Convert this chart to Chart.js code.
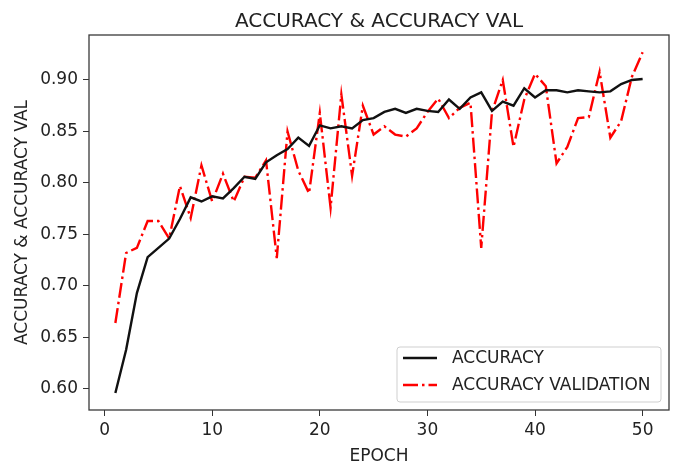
<!DOCTYPE html>
<html>
<head>
<meta charset="utf-8">
<script src="https://cdn.jsdelivr.net/npm/chart.js@4.4.0/dist/chart.umd.min.js"></script>
<style>
  html, body { margin: 0; padding: 0; background: #fff; }
  #wrap { width: 673px; height: 469px; }
</style>
</head>
<body>
<div id="wrap"><canvas id="accChart" width="673" height="469"></canvas></div>
<script>
// training history, one value per epoch
const epochs = [1, 2, 3, 4, 5, 6, 7, 8, 9, 10,
  11, 12, 13, 14, 15, 16, 17, 18, 19, 20,
  21, 22, 23, 24, 25, 26, 27, 28, 29, 30,
  31, 32, 33, 34, 35, 36, 37, 38, 39, 40,
  41, 42, 43, 44, 45, 46, 47, 48, 49, 50];
const accuracy = [0.596, 0.638, 0.693, 0.728, 0.737, 0.746, 0.765, 0.786, 0.782, 0.787,
  0.785, 0.795, 0.806, 0.804, 0.820, 0.827, 0.833, 0.844, 0.836, 0.856,
  0.853, 0.855, 0.853, 0.861, 0.863, 0.869, 0.872, 0.868, 0.872, 0.870,
  0.869, 0.881, 0.872, 0.883, 0.888, 0.870, 0.879, 0.875, 0.892, 0.883,
  0.890, 0.890, 0.888, 0.890, 0.889, 0.888, 0.889, 0.896, 0.900, 0.901];
const accuracyVal = [0.664, 0.732, 0.737, 0.763, 0.763, 0.746, 0.797, 0.766, 0.817, 0.782,
  0.809, 0.782, 0.806, 0.805, 0.822, 0.727, 0.850, 0.812, 0.790, 0.868,
  0.776, 0.886, 0.807, 0.875, 0.847, 0.855, 0.847, 0.845, 0.853, 0.869,
  0.882, 0.863, 0.873, 0.878, 0.737, 0.869, 0.900, 0.835, 0.881, 0.906,
  0.894, 0.819, 0.835, 0.863, 0.864, 0.908, 0.844, 0.860, 0.903, 0.927];
const xTicks = [0, 10, 20, 30, 40, 50];
const yTicks = ['0.60', '0.65', '0.70', '0.75', '0.80', '0.85', '0.90'];

const chartTitle = 'ACCURACY & ACCURACY VAL';
const FONT = 'DejaVu Sans';
const TEXT = '#222';

// title centred over the axes box, not the whole canvas
const axesTitle = {
  id: 'axesTitle',
  afterDraw(chart) {
    const { ctx, chartArea: a } = chart;
    ctx.save();
    ctx.font = '20px "' + FONT + '"';
    ctx.fillStyle = TEXT;
    ctx.textAlign = 'center';
    ctx.textBaseline = 'alphabetic';
    ctx.fillText(chartTitle, (a.left + a.right) / 2, a.top - 8);
    ctx.restore();
  }
};

// full box around the plot area
const frame = {
  id: 'frame',
  afterDatasetsDraw(chart) {
    const { ctx, chartArea: a } = chart;
    ctx.save();
    ctx.strokeStyle = '#3a3a3a';
    ctx.lineWidth = 1.3;
    ctx.strokeRect(a.left, a.top, a.right - a.left, a.bottom - a.top);
    ctx.restore();
  }
};

// legend box in the lower right corner of the axes
const boxLegend = {
  id: 'boxLegend',
  afterDraw(chart) {
    const { ctx, chartArea: a } = chart;
    const w = 264, h = 55;
    const left = a.right - 8 - w, top = a.bottom - 8 - h;
    ctx.save();
    ctx.beginPath();
    ctx.roundRect(left, top, w, h, 3);
    ctx.fillStyle = 'rgba(255,255,255,0.85)';
    ctx.fill();
    ctx.strokeStyle = '#cfcfcf';
    ctx.lineWidth = 1;
    ctx.stroke();
    chart.data.datasets.forEach((ds, i) => {
      const cy = top + 11 + i * 27;
      ctx.beginPath();
      ctx.setLineDash(ds.borderDash || []);
      ctx.strokeStyle = ds.borderColor;
      ctx.lineWidth = ds.borderWidth;
      ctx.moveTo(left + 6, cy);
      ctx.lineTo(left + 40, cy);
      ctx.stroke();
      ctx.setLineDash([]);
      ctx.font = '17px "' + FONT + '"';
      ctx.fillStyle = TEXT;
      ctx.textAlign = 'left';
      ctx.textBaseline = 'middle';
      ctx.fillText(ds.label, left + 55, cy + 1);
    });
    ctx.restore();
  }
};

const ctx = document.getElementById('accChart').getContext('2d');
new Chart(ctx, {
  type: 'line',
  data: {
    datasets: [
      {
        label: 'ACCURACY',
        data: epochs.map((e, i) => ({ x: e, y: accuracy[i] })),
        borderColor: '#111111',
        borderWidth: 2.4,
        pointRadius: 0,
        tension: 0,
      },
      {
        label: 'ACCURACY VALIDATION',
        data: epochs.map((e, i) => ({ x: e, y: accuracyVal[i] })),
        borderColor: '#ff0000',
        borderWidth: 2.4,
        borderDash: [15, 4, 2.5, 4],
        pointRadius: 0,
        tension: 0,
      },
    ],
  },
  options: {
    responsive: false,
    animation: false,
    devicePixelRatio: 1,
    layout: { padding: { top: 35, right: 4, left: 0, bottom: 0 } },
    plugins: {
      legend: { display: false },
      title: { display: false },
      tooltip: { enabled: false },
    },
    scales: {
      x: {
        type: 'linear',
        min: -1.45,
        max: 52.45,
        afterFit(scale) { scale.height = 59; },
        afterBuildTicks(scale) { scale.ticks = xTicks.map(v => ({ value: v })); },
        ticks: {
          color: TEXT,
          font: { family: FONT, size: 17 },
          padding: 4,
          maxRotation: 0,
          autoSkip: false,
          callback: v => String(v),
        },
        grid: { drawOnChartArea: false, tickLength: 6, color: '#333' },
        border: { display: false },
        title: {
          display: true,
          text: 'EPOCH',
          color: TEXT,
          font: { family: FONT, size: 17 },
          padding: { top: 0, bottom: 2 },
        },
      },
      y: {
        min: 0.5795,
        max: 0.9437,
        afterFit(scale) { scale.width = 89; },
        afterBuildTicks(scale) { scale.ticks = yTicks.map(t => ({ value: parseFloat(t) })); },
        ticks: {
          color: TEXT,
          font: { family: FONT, size: 17 },
          padding: 5,
          callback: v => yTicks.find(t => Math.abs(parseFloat(t) - v) < 1e-6) || '',
        },
        grid: { drawOnChartArea: false, tickLength: 6, color: '#333' },
        border: { display: false },
        title: {
          display: true,
          text: 'ACCURACY & ACCURACY VAL',
          color: TEXT,
          font: { family: FONT, size: 17 },
          padding: { top: 12, bottom: 0 },
        },
      },
    },
  },
  plugins: [frame, axesTitle, boxLegend],
});
</script>
</body>
</html>
